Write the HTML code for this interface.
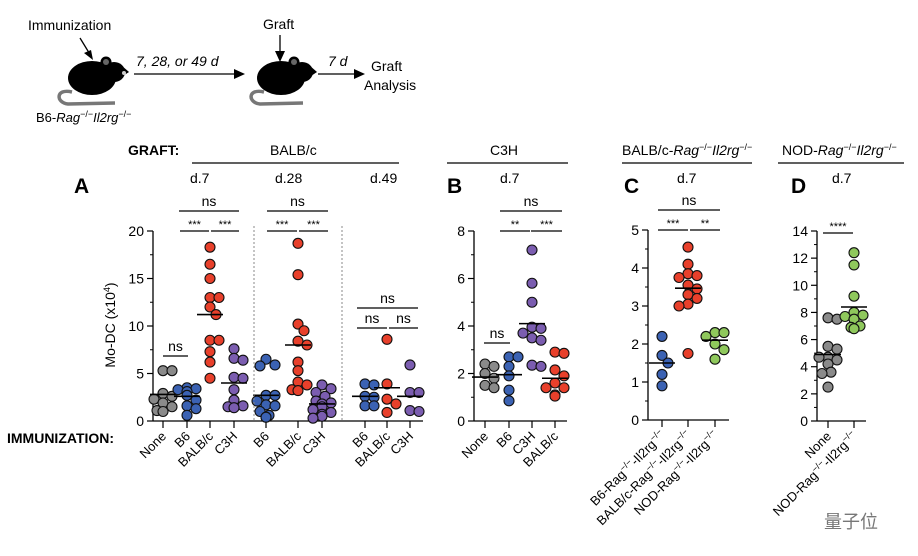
<!DOCTYPE html>
<html><head><meta charset="utf-8"><style>
body{margin:0;background:#fff;}
svg{display:block;font-family:"Liberation Sans","Noto Sans CJK SC",sans-serif;}
</style></head><body>
<svg id="fig" width="918" height="556" viewBox="0 0 918 556">
<g>
  <text x="28" y="30" font-size="14">Immunization</text>
  <line x1="80" y1="38" x2="91" y2="56" stroke="#000" stroke-width="1.3"/>
  <polygon points="93,60 84,53 91,50" fill="#000"/>
  <g>
    <path d="M72,92 C55,88 56,103 68,104 L115,103" fill="none" stroke="#777" stroke-width="3.5"/>
    <ellipse cx="92" cy="78" rx="24" ry="17" fill="#000"/>
    <ellipse cx="114" cy="72" rx="11" ry="10" fill="#000"/>
    <polygon points="121,65 129,72 120,78" fill="#000"/>
    <circle cx="106" cy="62" r="5.5" fill="#000"/><circle cx="106" cy="62" r="3" fill="#666"/>
    <circle cx="124" cy="73" r="2" fill="#ccc"/>
  </g>
  <line x1="134" y1="74" x2="236" y2="74" stroke="#000" stroke-width="1.3"/>
  <polygon points="245,74 234,69 234,79" fill="#000"/>
  <text x="136" y="66" font-size="14" font-style="italic">7, 28, or 49 d</text>
  <text x="263" y="29" font-size="14">Graft</text>
  <line x1="280" y1="35" x2="280" y2="53" stroke="#000" stroke-width="1.3"/>
  <polygon points="280,62 275,51 285,51" fill="#000"/>
  <g>
    <path d="M264,92 C247,88 248,103 260,104 L303,103" fill="none" stroke="#777" stroke-width="3.5"/>
    <ellipse cx="281" cy="78" rx="24" ry="17" fill="#000"/>
    <ellipse cx="302" cy="72" rx="11" ry="10" fill="#000"/>
    <polygon points="309,65 317,72 308,78" fill="#000"/>
    <circle cx="294" cy="62" r="5.5" fill="#000"/><circle cx="294" cy="62" r="3" fill="#666"/>
  </g>
  <line x1="318" y1="74" x2="356" y2="74" stroke="#000" stroke-width="1.3"/>
  <polygon points="365,74 354,69 354,79" fill="#000"/>
  <text x="328" y="66" font-size="14" font-style="italic">7 d</text>
  <text x="371" y="71" font-size="14">Graft</text>
  <text x="364" y="90" font-size="14">Analysis</text>
  <text x="36" y="122" font-size="13">B6-<tspan font-style="italic">Rag</tspan><tspan font-size="9" dy="-5">−/−</tspan><tspan dy="5" font-style="italic">Il2rg</tspan><tspan font-size="9" dy="-5">−/−</tspan></text>
</g>
<g font-size="14">
  <text x="128" y="155" font-weight="bold">GRAFT:</text>
  <text x="270" y="155">BALB/c</text>
  <line x1="192" y1="163" x2="399" y2="163" stroke="#000" stroke-width="1.2"/>
  <text x="190" y="183">d.7</text><text x="275" y="183">d.28</text><text x="370" y="183">d.49</text>
  <text x="490" y="155">C3H</text>
  <line x1="447" y1="163" x2="568" y2="163" stroke="#000" stroke-width="1.2"/>
  <text x="500" y="183">d.7</text>
  <text x="622" y="155">BALB/c-<tspan font-style="italic">Rag</tspan><tspan font-size="9" dy="-5">−/−</tspan><tspan dy="5" font-style="italic">Il2rg</tspan><tspan font-size="9" dy="-5">−/−</tspan></text>
  <line x1="622" y1="163" x2="752" y2="163" stroke="#000" stroke-width="1.2"/>
  <text x="677" y="183">d.7</text>
  <text x="782" y="155">NOD-<tspan font-style="italic">Rag</tspan><tspan font-size="9" dy="-5">−/−</tspan><tspan dy="5" font-style="italic">Il2rg</tspan><tspan font-size="9" dy="-5">−/−</tspan></text>
  <line x1="778" y1="163" x2="904" y2="163" stroke="#000" stroke-width="1.2"/>
  <text x="832" y="183">d.7</text>
  <text x="7" y="443" font-weight="bold">IMMUNIZATION:</text>
  <text x="115" y="325" transform="rotate(-90 115 325)" text-anchor="middle">Mo-DC (x10<tspan font-size="9" dy="-5">4</tspan><tspan dy="5">)</tspan></text>
</g>
<g font-size="21" font-weight="bold">
  <text x="74" y="193">A</text>
  <text x="447" y="193">B</text>
  <text x="624" y="193">C</text>
  <text x="791" y="193">D</text>
</g>
<text x="824" y="528" font-size="18" fill="#777">量子位</text>
<g id="plots"></g>
</svg>
<script>
// Panel A categories & values
const catsA = ["None","B6","BALB/c","C3H","B6","BALB/c","C3H","B6","BALB/c","C3H"];
const colA = ["gray","blue","red","purple","blue","red","purple","blue","red","purple"];
const a1 = [5.3,5.3,2.9,2.6,2.3,1.9,1.5,1.1,1.0];
const a2 = [3.5,3.4,3.3,3.1,2.7,2.2,1.6,1.3,0.6];
const a3 = [18.3,16.5,15.0,13.0,13.0,12.0,11.2,8.5,8.5,7.3,6.2,4.5];
const a4 = [7.6,6.6,6.4,4.6,4.5,3.3,2.2,1.6,1.5,1.4];
const a5 = [6.5,5.9,5.8,2.7,2.7,2.1,1.7,1.6,1.0,0.6,0.4,0.4];
const a6 = [18.7,15.4,10.2,9.5,8.4,8.0,6.2,5.3,4.1,3.8,3.3,3.2];
const a7 = [3.8,3.4,3.0,2.6,2.1,1.9,1.8,1.5,1.2,0.9,0.7,0.5,0.3];
const a8 = [3.9,3.8,2.6,2.5,1.6,1.6];
const a9 = [8.6,3.9,2.3,1.8,0.9];
const a10 = [5.9,3.0,3.0,1.1,1.0];
const meansA = [2.8,2.6,11.2,4.0,2.7,8.0,1.8,2.6,3.5,2.6];
const ticksA = [0,5,10,15,20];
// Panel B
const catsB = ["None","B6","C3H","BALB/c"];
const colB = ["gray","blue","purple","red"];
const b1 = [2.4,2.3,2.0,1.8,1.5,1.4];
const b2 = [2.7,2.7,2.3,1.9,1.3,0.85];
const b3 = [7.2,5.8,5.0,3.95,3.9,3.7,3.5,3.4,2.35,2.3];
const b4 = [2.9,2.85,2.15,1.9,1.6,1.4,1.4,1.1,1.05];
const meansB = [1.85,1.95,4.1,1.8];
const ticksB = [0,2,4,6,8];
// Panel C
const catsC = ["B6-Rag","BALB/c-Rag","NOD-Rag"];
const colC = ["blue","red","green"];
const c1 = [2.2,1.7,1.5,1.2,0.9];
const c2 = [4.55,4.1,3.85,3.8,3.75,3.55,3.45,3.3,3.2,3.05,3.0,1.75];
const c3 = [2.3,2.3,2.2,2.0,1.85,1.6];
const meansC = [1.5,3.47,2.1];
const ticksC = [0,1,2,3,4,5];
// Panel D
const catsD = ["None","NOD-Rag"];
const colD = ["gray","green"];
const d1 = [7.6,7.5,5.5,5.3,4.7,4.7,4.5,4.2,3.6,3.5,2.5];
const d2 = [12.4,11.5,9.2,8.0,7.8,7.7,7.5,7.0,6.9,6.8];
const meansD = [4.9,8.4];
const ticksD = [0,2,4,6,8,10,12,14];

const COLORS = {gray:"#8a8a8a",blue:"#3b62b3",red:"#e8402b",purple:"#7b5db0",green:"#8fc85c"};
const NS = "http://www.w3.org/2000/svg";
const root = document.getElementById("plots");
function mk(tag, attrs, parent){ const e=document.createElementNS(NS,tag); for(const k in attrs) e.setAttribute(k,attrs[k]); (parent||root).appendChild(e); return e; }

function panel(cfg){
  const g = mk("g",{});
  
  
  const y = v => cfg.y0 - (v/cfg.max)*(cfg.y0-cfg.yTop);
  mk("line",{x1:cfg.ax,y1:cfg.y0,x2:cfg.ax,y2:cfg.yTop,stroke:"#000","stroke-width":1.3},g);
  mk("line",{x1:cfg.ax,y1:cfg.y0,x2:cfg.xEnd,y2:cfg.y0,stroke:"#000","stroke-width":1.3},g);
  cfg.ticks.forEach(t=>{
    mk("line",{x1:cfg.ax-6,y1:y(t),x2:cfg.ax,y2:y(t),stroke:"#000","stroke-width":1.2},g);
    const tx = mk("text",{x:cfg.ax-9,y:y(t)+5,"text-anchor":"end","font-size":14},g);
    tx.textContent = t;
    
    
  });
  for(let v=cfg.minor; v<cfg.max; v+=cfg.minor*2){
    mk("line",{x1:cfg.ax-3,y1:y(v),x2:cfg.ax,y2:y(v),stroke:"#000","stroke-width":1},g);
  }
  cfg.xs.forEach((x,i)=>{
    mk("line",{x1:x,y1:cfg.y0,x2:x,y2:cfg.y0+7,stroke:"#000","stroke-width":1.2},g);
    const lab = mk("text",{x:x+4,y:cfg.y0+16,"text-anchor":"end","font-size":13,transform:`rotate(-45 ${x+4} ${cfg.y0+16})`},g);
    const name = cfg.cats[i];
    if(name.indexOf("-Rag")>=0){
      lab.innerHTML = name+'<tspan font-size="9" dy="-5">−/−</tspan><tspan dy="5">-Il2rg</tspan><tspan font-size="9" dy="-5">−/−</tspan>';
    } else lab.textContent = name;
    
    
    const vals = cfg.series[i];
    const placed = [];
    vals.forEach(v=>{
      const py = y(v);
      let off = 0;
      for(let k=0;k<16;k++){
        const cand = k===0?0:(k%2? Math.ceil(k/2)*3 : -Math.ceil(k/2)*3);
        if(Math.abs(cand)>11) { off = 0; break; }
        if(placed.every(p=>Math.hypot(p[0]-cand,p[1]-py)>=8.5)){ off=cand; break; }
      }
      placed.push([off,py]);
      const c = mk("circle",{cx:x+off,cy:py,r:5,fill:COLORS[cfg.colors[i]],stroke:"#111","stroke-width":1.1},g);
      
      
    });
    const m = mk("line",{x1:x-13,x2:x+13,y1:y(cfg.means[i]),y2:y(cfg.means[i]),stroke:"#000","stroke-width":1.6},g);
    
    
  });
  (cfg.brackets||[]).forEach(b=>{
    const by = b[2];
    mk("line",{x1:b[0],x2:b[1],y1:by,y2:by,stroke:"#000","stroke-width":1.3},g);
    const st = b[4]==="ns";
    const t = mk("text",{x:(b[0]+b[1])/2,y:st?by-5:by-3,"text-anchor":"middle","font-size":st?14:11},g);
    t.textContent = b[4];
    
    
  });
  return y;
}

panel({name:"panel-a-chart",ax:153,y0:421,yTop:231,max:20,minor:2.5,xEnd:423,
  xs:[163,187,210,234,266,298,322,365,387,410],cats:catsA,colors:colA,
  series:[a1,a2,a3,a4,a5,a6,a7,a8,a9,a10],means:meansA,ticks:ticksA,
  brackets:[[163,188,356,1,"ns"],[180,209,231,1,"***"],[211,239,231,1,"***"],[179,239,211,1,"ns"],
            [267,297,231,1,"***"],[299,328,231,1,"***"],[267,328,211,1,"ns"],
            [357,387,328,1,"ns"],[389,418,328,1,"ns"],[357,418,308,1,"ns"]]});
[254,342].forEach(x=>{
  const l = mk("line",{x1:x,x2:x,y1:226,y2:421,stroke:"#888","stroke-width":1,"stroke-dasharray":"2,2"});
  
  
});
panel({name:"panel-b-chart",ax:474,y0:421,yTop:231,max:8,minor:1,xEnd:567,
  xs:[485,509,532,555],cats:catsB,colors:colB,series:[b1,b2,b3,b4],means:meansB,ticks:ticksB,
  brackets:[[484,510,343,1,"ns"],[500,530,231,1,"**"],[531,562,231,1,"***"],[500,562,211,1,"ns"]]});
panel({name:"panel-c-chart",ax:648,y0:420,yTop:230,max:5,minor:0.5,xEnd:729,
  xs:[662,688,715],cats:catsC,colors:colC,series:[c1,c2,c3],means:meansC,ticks:ticksC,
  brackets:[[658,688,230,1,"***"],[690,720,230,1,"**"],[658,720,210,1,"ns"]]});
panel({name:"panel-d-chart",ax:817,y0:421,yTop:231,max:14,minor:1,xEnd:866,
  xs:[828,854],cats:catsD,colors:colD,series:[d1,d2],means:meansD,ticks:ticksD,
  brackets:[[823,853,233,1,"****"]]});
</script>
</body></html>
